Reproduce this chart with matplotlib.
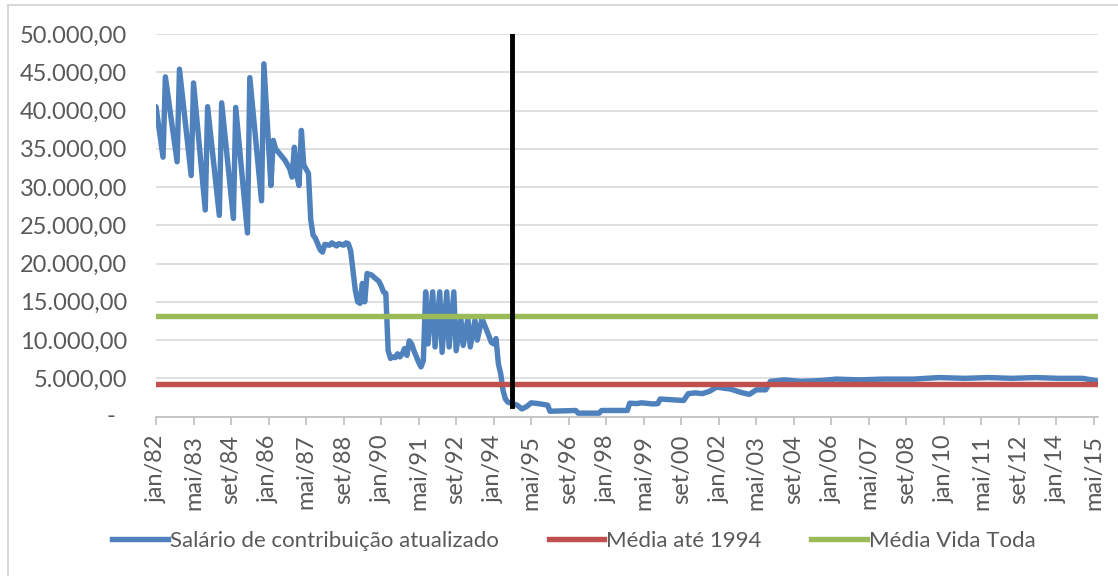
import matplotlib.pyplot as plt
import matplotlib.lines as mlines
from matplotlib import font_manager
import numpy as np

# ===== dados (pontos de inflexão da série mensal) =====
datas = [
    "1982-01", "1982-04", "1982-05", "1982-10", "1982-11", "1983-04", "1983-05",
    "1983-10", "1983-11", "1984-04", "1984-05", "1984-10", "1984-11", "1985-04",
    "1985-05", "1985-10", "1985-11", "1986-02", "1986-03", "1986-04", "1986-08",
    "1986-10", "1986-11", "1986-12", "1987-01", "1987-02", "1987-03", "1987-04",
    "1987-06", "1987-07", "1987-08", "1987-09", "1987-11", "1987-12", "1988-01",
    "1988-03", "1988-04", "1988-06", "1988-07", "1988-09", "1988-10", "1988-11",
    "1988-12", "1989-02", "1989-03", "1989-04", "1989-05", "1989-06", "1989-07",
    "1989-09", "1989-10", "1989-12", "1990-01", "1990-02", "1990-03", "1990-04",
    "1990-05", "1990-06", "1990-07", "1990-08", "1990-09", "1990-10", "1990-11",
    "1990-12", "1991-01", "1991-02", "1991-03", "1991-05", "1991-06", "1991-07",
    "1991-08", "1991-09", "1991-11", "1991-12", "1992-02", "1992-03", "1992-05",
    "1992-06", "1992-08", "1992-09", "1992-11", "1992-12", "1993-02", "1993-03",
    "1993-05", "1993-06", "1993-08", "1993-10", "1993-12", "1994-01", "1994-02",
    "1994-03", "1994-04", "1994-05", "1994-06", "1994-07", "1994-09", "1994-11",
    "1995-01", "1995-03", "1995-05", "1995-08", "1995-10", "1995-12", "1996-01",
    "1996-12", "1997-01", "1997-10", "1997-11", "1998-10", "1998-11", "1999-02",
    "1999-04", "1999-09", "1999-11", "1999-12", "2000-05", "2000-10", "2000-12",
    "2001-03", "2001-06", "2001-09", "2001-12", "2002-06", "2002-10", "2003-02",
    "2003-05", "2003-09", "2003-11", "2004-05", "2004-12", "2005-08", "2006-03",
    "2007-01", "2007-11", "2008-12", "2009-11", "2010-10", "2011-08", "2012-06",
    "2013-04", "2014-02", "2014-12", "2015-06",
]
salario = [
    40500, 33900, 44400, 33300, 45400, 31500, 43600,
    27000, 40500, 26300, 41000, 25900, 40400, 24000,
    44300, 28200, 46100, 30200, 36100, 35000, 33500,
    32400, 31300, 35200, 31500, 30200, 37400, 32900,
    31800, 25700, 23700, 23300, 21800, 21500, 22500,
    22400, 22700, 22300, 22600, 22400, 22700, 22600,
    21700, 16500, 15000, 14800, 17400, 15000, 18700,
    18500, 18200, 17700, 17100, 16300, 16100, 8600,
    7600, 7800, 7700, 8200, 7800, 8200, 8900,
    8000, 9900, 9500, 8600, 7100, 6500, 7300,
    16300, 9500, 16300, 9100, 16300, 8400, 16300,
    9100, 16300, 8600, 12800, 9300, 12800, 9100,
    12600, 10000, 12800, 11300, 9700, 9500, 10200,
    6900, 5600, 3400, 2300, 1900, 1700, 1500,
    1000, 1300, 1800, 1700, 1600, 1500, 700,
    800, 450, 450, 800, 800, 1750, 1700,
    1800, 1650, 1700, 2300, 2200, 2100, 3000,
    3100, 3000, 3300, 3850, 3600, 3200, 2900,
    3500, 3500, 4600, 4800, 4600, 4700, 4900,
    4800, 4900, 4900, 5100, 5000, 5100, 5000,
    5100, 5000, 5000, 4700,
]
media_ate_1994 = 4200
media_vida_toda = 13200
marco_data = "1994-09"
marco_valores = [1400, 50000]

meses_pt = ["jan", "fev", "mar", "abr", "mai", "jun", "jul", "ago", "set", "out", "nov", "dez"]


def mes_idx(s):
    a, m = s.split("-")
    return (int(a) - 1982) * 12 + int(m) - 1


def rotulo_mes(i):
    return f"{meses_pt[i % 12]}/{(1982 + i // 12) % 100:02d}"


def fmt_br(v):
    return f"{v:,.2f}".replace(",", "X").replace(".", ",").replace("X", ".")


nomes = {f.name for f in font_manager.fontManager.ttflist}
fonte = "Lato" if "Lato" in nomes else "DejaVu Sans"
plt.rcParams["font.family"] = [fonte, "DejaVu Sans"]

AZUL = "#4F81BD"
VERMELHO = "#C0504D"
VERDE = "#9BBB59"
CINZA_TXT = "#595959"

fig = plt.figure(figsize=(11.18, 5.76), dpi=100)
ax = fig.add_axes([156 / 1118, 1 - 416.6 / 576, 942 / 1118, 382.6 / 576])

x = [mes_idx(d) for d in datas]
ax.plot(x, salario, color=AZUL, lw=3.9, solid_joinstyle="round", solid_capstyle="round", zorder=3)
ax.plot([0, x[-1]], [media_ate_1994] * 2, color=VERMELHO, lw=3.9, zorder=4)
ax.plot([0, x[-1]], [media_vida_toda] * 2, color=VERDE, lw=3.9, zorder=5)
mx = mes_idx(marco_data)
ax.plot([mx, mx], marco_valores, color="black", lw=3.5, zorder=6)

ax.set_xlim(0, 401.7)
ax.set_ylim(0, 50000)
yt = np.arange(0, 50001, 5000)
ax.set_yticks(yt)
ax.set_yticklabels([""] + [fmt_br(v) for v in yt[1:]])
# zero em formato contábil ("-" recuado)
ax.annotate("-", xy=(0, 0), xycoords=("axes fraction", "data"), xytext=(-29, 0),
            textcoords="offset points", ha="right", va="center", fontsize=17, color=CINZA_TXT)
ax.grid(axis="y", color="#D9D9D9", lw=1.2, zorder=0)
ax.set_axisbelow(True)

xt = np.arange(0, 401, 16)
ax.set_xticks(xt)
ax.set_xticklabels([rotulo_mes(i) for i in xt], rotation=90)

for s in ["top", "right", "left"]:
    ax.spines[s].set_visible(False)
ax.spines["bottom"].set_color("#BFBFBF")
ax.spines["bottom"].set_linewidth(1.2)
ax.tick_params(axis="y", length=0, pad=21, labelsize=17, labelcolor=CINZA_TXT)
ax.tick_params(axis="x", length=6, width=1.2, color="#BFBFBF", pad=7, labelsize=17, labelcolor=CINZA_TXT)

# borda da área do gráfico (recortada)
fig.add_artist(mlines.Line2D([8 / 1118, 8 / 1118], [0, 1 - 5 / 576], color="#D9D9D9", lw=1.5))
fig.add_artist(mlines.Line2D([8 / 1118, 1], [1 - 5 / 576] * 2, color="#D9D9D9", lw=1.5))

handles = [mlines.Line2D([], [], color=c, lw=3.9) for c in (AZUL, VERMELHO, VERDE)]
rotulos = ["Salário de contribuição atualizado", "Média até 1994", "Média Vida Toda"]
fig.legend(handles, rotulos, loc="center", bbox_to_anchor=(574 / 1118, 1 - 541 / 576), ncol=3,
           frameon=False, handlelength=2.48, handletextpad=0.1, columnspacing=2.25,
           prop={"size": 16}, labelcolor=CINZA_TXT)

fig.savefig("out.png", dpi=100)
